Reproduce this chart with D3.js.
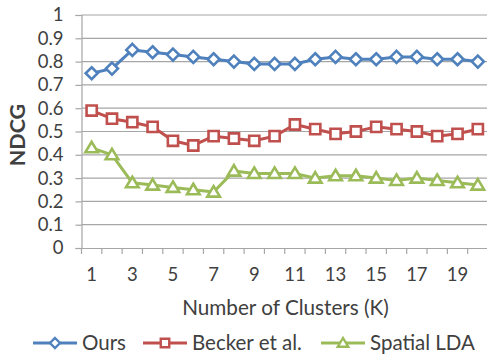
<!DOCTYPE html>
<html><head><meta charset="utf-8">
<script src="https://cdn.jsdelivr.net/npm/d3@7"></script>
<style>body{margin:0;background:#fff}svg{display:block}text{font-family:Lato,"Open Sans",sans-serif;fill:#404040}</style>
</head><body><svg id="c" width="487" height="355"></svg>
<script>
const categories = d3.range(1, 21);
const ours = [0.75,0.77,0.85,0.84,0.83,0.82,0.81,0.80,0.79,0.79,0.79,0.81,0.82,0.81,0.81,0.82,0.82,0.81,0.81,0.80];
const becker = [0.59,0.555,0.54,0.52,0.46,0.44,0.48,0.47,0.46,0.48,0.53,0.51,0.49,0.50,0.52,0.51,0.50,0.48,0.49,0.51];
const spatial = [0.43,0.40,0.28,0.27,0.26,0.25,0.24,0.33,0.32,0.32,0.32,0.30,0.31,0.31,0.30,0.29,0.30,0.29,0.28,0.27];
const yTicks = [0,0.1,0.2,0.3,0.4,0.5,0.6,0.7,0.8,0.9,1];
const xTickLabels = [1,3,5,7,9,11,13,15,17,19];
const seriesNames = ["Ours","Becker et al.","Spatial LDA"];
const colors = ["#4f81bd","#c0504d","#9bbb59"];
const markers = ["diamond","square","triangle"];

const svg = d3.select("#c");
const L = 81.5, R = 488, T = 15, B = 248;
const x = d3.scaleBand().domain(categories).range([L, R]);
const y = d3.scaleLinear().domain([0,1]).range([B, T]);
const grid = "#a6a6a6";

// gridlines
svg.append("g").selectAll("line").data(yTicks.filter(d=>d>0)).join("line")
  .attr("x1", L).attr("x2", R).attr("y1", d=>y(d)).attr("y2", d=>y(d))
  .attr("stroke", grid).attr("stroke-width", 1.2);

// y axis
const ya = svg.append("g").attr("transform", `translate(${L},0)`)
  .call(d3.axisLeft(y).tickValues(yTicks).tickFormat(d=>d===0?"0":d===1?"1":d3.format(".1f")(d)).tickSize(6).tickPadding(12));
ya.select(".domain").attr("stroke", grid).attr("stroke-width", 1.2);
ya.selectAll(".tick line").attr("stroke", grid).attr("stroke-width", 1.2);
ya.selectAll(".tick text").attr("font-size", 18.5).attr("fill", "#404040").attr("font-family", "Lato");

// x axis
const xa = svg.append("g").attr("transform", `translate(0,${B})`)
  .call(d3.axisBottom(x).tickValues([]).tickSizeOuter(0));
xa.select(".domain").attr("stroke", grid).attr("stroke-width", 1.2);
const bounds = categories.map(c => x(c));
xa.append("g").selectAll("line").data(bounds).join("line")
  .attr("x1", d=>d).attr("x2", d=>d).attr("y1", 0).attr("y2", 6)
  .attr("stroke", grid).attr("stroke-width", 1.2);
xa.append("g").selectAll("text").data(xTickLabels).join("text")
  .attr("x", d=>x(d)+x.bandwidth()/2).attr("y", 32.5)
  .attr("text-anchor", "middle").attr("font-size", 18.5).text(d=>d);

// axis titles
svg.append("text").attr("x", 285.5).attr("y", 315).attr("text-anchor","middle")
  .attr("font-size", 20.7).text("Number of Clusters (K)");
svg.append("text").attr("transform", "translate(25,135) rotate(-90)").attr("text-anchor","middle")
  .attr("font-size", 21.5).attr("font-weight","bold").text("NDCG");

function markerPath(type, s) {
  if (type==="diamond") return `M0,${-s}L${s},0L0,${s}L${-s},0Z`;
  if (type==="square") return `M${-s*0.85},${-s*0.85}H${s*0.85}V${s*0.85}H${-s*0.85}Z`;
  return `M0,${-s}L${s*1.05},${s*0.75}H${-s*1.05}Z`;
}

const data = [ours, becker, spatial];
const line = d3.line().x((d,i)=>x(categories[i])+x.bandwidth()/2).y(d=>y(d));
data.forEach((vals, k) => {
  const g = svg.append("g");
  g.append("path").datum(vals).attr("d", line).attr("fill","none")
    .attr("stroke", colors[k]).attr("stroke-width", 3).attr("stroke-linejoin","round");
  g.selectAll("path.m").data(vals).join("path").attr("class","m")
    .attr("transform",(d,i)=>`translate(${x(categories[i])+x.bandwidth()/2},${y(d)})`)
    .attr("d", markerPath(markers[k], 6))
    .attr("fill", "#fff").attr("stroke", colors[k]).attr("stroke-width", 2.6);
});

// legend
const legX = [33, 143, 321];
const lg = svg.append("g");
seriesNames.forEach((n,k)=>{
  const cx = legX[k];
  lg.append("line").attr("x1",cx).attr("x2",cx+44).attr("y1",343).attr("y2",343)
    .attr("stroke",colors[k]).attr("stroke-width",3);
  lg.append("path").attr("transform",`translate(${cx+22},343)`).attr("d",markerPath(markers[k],5))
    .attr("fill","#fff").attr("stroke",colors[k]).attr("stroke-width",2.4);
  lg.append("text").attr("x",cx+49).attr("y",349.5).attr("font-size",20.5).text(n);
});
</script></body></html>
